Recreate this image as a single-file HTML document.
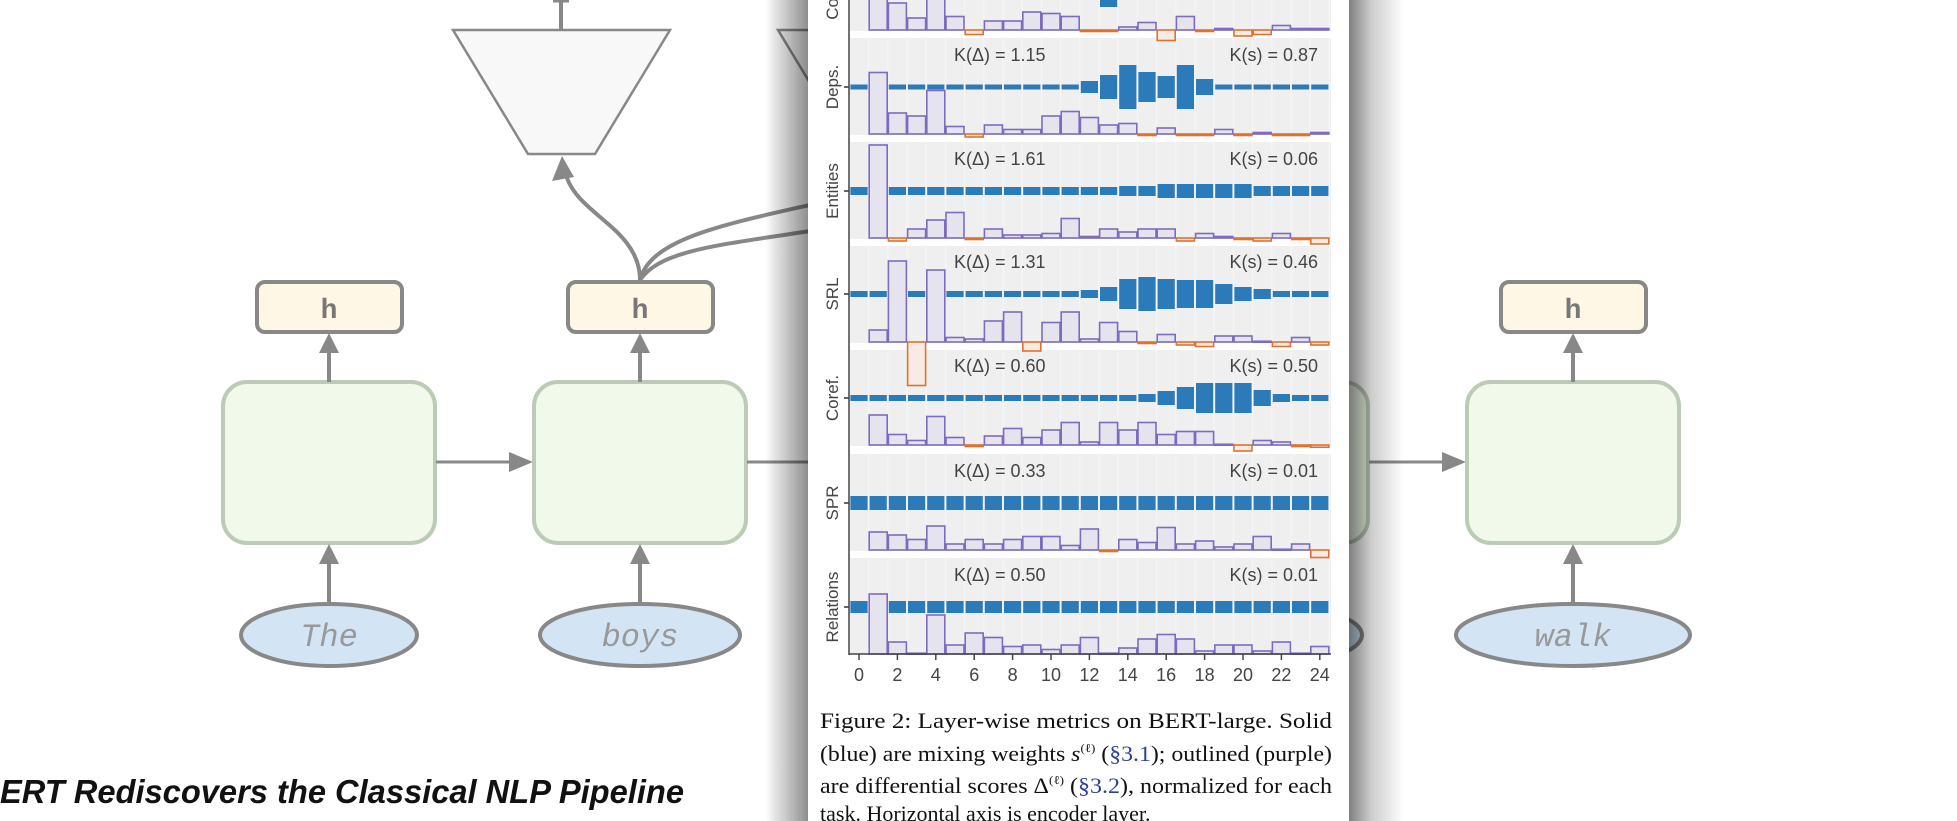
<!DOCTYPE html>
<html><head><meta charset="utf-8"><style>
html,body{margin:0;padding:0;background:#fff;width:1957px;height:821px;overflow:hidden}
svg{display:block}
</style></head><body>
<svg id="s" width="1957" height="821" viewBox="0 0 1957 821" xmlns="http://www.w3.org/2000/svg">
<defs>
<linearGradient id="shL" x1="0" x2="1" y1="0" y2="0"><stop offset="0" stop-color="#000" stop-opacity="0"/><stop offset="1" stop-color="#000" stop-opacity="0.45"/></linearGradient>
<linearGradient id="shR" x1="0" x2="1" y1="0" y2="0"><stop offset="0" stop-color="#000" stop-opacity="0.5"/><stop offset="0.4" stop-color="#000" stop-opacity="0.2"/><stop offset="1" stop-color="#000" stop-opacity="0"/></linearGradient>
</defs>
<g id="diag" fill="none" stroke="#888" stroke-width="4">
<line x1="561" y1="0" x2="561" y2="30" stroke-width="4"/>
<line x1="553" y1="1" x2="569" y2="1" stroke-width="3"/>
<polygon points="453,30 670,30 595,154 528,154" fill="#f8f8f8" stroke-width="2.5"/>
<polygon points="778,30 995,30 920,154 853,154" fill="#f8f8f8" stroke-width="2.5"/>
<path d="M640,280 C640,230 580,215 567,178" stroke-width="4"/>
<polygon points="562,156 552,181 574,177" fill="#888" stroke="none"/>
<path d="M640,280 C650,240 720,225 810,205" stroke-width="4"/>
<path d="M640,280 C660,250 720,245 810,231" stroke-width="4"/>
</g>
<g id="cols"></g>
<rect x="765" y="0" width="44" height="821" fill="url(#shL)"/>
<rect x="1349" y="0" width="55" height="821" fill="url(#shR)"/>
<rect x="808" y="0" width="541" height="821" fill="#fff"/>
<g id="plot"></g>
<text x="820" y="728" font-family="Liberation Serif, serif" font-size="22" fill="#111" textLength="512" lengthAdjust="spacingAndGlyphs">Figure 2: Layer-wise metrics on BERT-large.  Solid</text>
<text x="820" y="761" font-family="Liberation Serif, serif" font-size="22" fill="#111" textLength="512" lengthAdjust="spacingAndGlyphs">(blue) are mixing weights <tspan font-style="italic">s</tspan><tspan font-size="12" dy="-9">(ℓ)</tspan><tspan dy="9"> (</tspan><tspan fill="#2a3f9a">§3.1</tspan>); outlined (purple)</text>
<text x="820" y="793" font-family="Liberation Serif, serif" font-size="22" fill="#111" textLength="512" lengthAdjust="spacingAndGlyphs">are differential scores Δ<tspan font-size="12" dy="-9">(ℓ)</tspan><tspan dy="9"> (</tspan><tspan fill="#2a3f9a">§3.2</tspan>), normalized for each</text>
<text x="820" y="821" font-family="Liberation Serif, serif" font-size="22" fill="#111">task. Horizontal axis is encoder layer.</text>
<text x="0" y="803" font-family="Liberation Sans, sans-serif" font-size="33" font-style="italic" font-weight="bold" fill="#111" textLength="684" lengthAdjust="spacingAndGlyphs">ERT Rediscovers the Classical NLP Pipeline</text>
</svg>
<script>
var NS="http://www.w3.org/2000/svg";
function el(p,t,a,txt){var e=document.createElementNS(NS,t);for(var k in a)e.setAttribute(k,a[k]);if(txt!==undefined)e.textContent=txt;p.appendChild(e);return e;}
var cols=document.getElementById('cols');
var centers=[329,640,951,1262,1573];var words=["The","boys","","","walk"];var rxs=[88,100,100,100,117];
function arrowUp(x,y1,y2){el(cols,'line',{x1:x,y1:y1,x2:x,y2:y2+18,stroke:'#888','stroke-width':4});el(cols,'polygon',{points:(x-10)+','+(y2+20)+' '+(x+10)+','+(y2+20)+' '+x+','+y2,fill:'#888'});}
function arrowR(y,x1,x2){el(cols,'line',{x1:x1,y1:y,x2:x2-18,y2:y,stroke:'#888','stroke-width':3});el(cols,'polygon',{points:(x2-24)+','+(y-10)+' '+(x2-24)+','+(y+10)+' '+x2+','+y,fill:'#888'});}
centers.forEach(function(c,i){
 el(cols,'rect',{x:c-106,y:382,width:212,height:161,rx:24,fill:'#f0f9ea',stroke:'#bccbb5','stroke-width':4});
 el(cols,'rect',{x:c-72,y:282,width:145,height:50,rx:8,fill:'#fef7e6',stroke:'#888','stroke-width':4});
 el(cols,'text',{x:c,y:318,'text-anchor':'middle','font-family':'Liberation Mono, monospace','font-weight':'bold','font-size':28,fill:'#777'},'h');
 arrowUp(c,382,333);
 el(cols,'ellipse',{cx:c,cy:635,rx:rxs[i],ry:31,fill:'#d3e5f5',stroke:'#888','stroke-width':4});
 el(cols,'text',{x:c,y:646,'text-anchor':'middle','font-family':'Liberation Mono, monospace','font-style':'italic','font-size':32,fill:'#999'},words[i]);
 arrowUp(c,604,544);
 if(i<4) arrowR(462,c+107,centers[i+1]-107);
});
var P=document.getElementById('plot');
var bgs=[[0,31],[38,135],[142,239],[246,343],[350,446],[454,551],[558,654]];
bgs.forEach(function(b){el(P,'rect',{x:850,y:b[0],width:481,height:b[1]-b[0],fill:'#efefef'});
 for(var i=0;i<=25;i++){var x=859+i*19.2-9.6;if(x>850&&x<1331)el(P,'line',{x1:x,y1:b[0],x2:x,y2:b[1],stroke:'#f7f7f7','stroke-width':1});}});
function sArr(base,m){var a=[];for(var i=0;i<25;i++)a.push(m[i]!==undefined?m[i]:base);return a;}
var panels=[
 {name:'',line:-15,base:30,s:sArr(3,{13:22,12:8,14:12}),d:[0,40,18,8,40,9,-3,6,6,12,11,9,-1,-1,2,5,-7,9,-1,1,-4,-3,3,1,1],k:null},
 {name:'Deps.',line:87,base:134,s:sArr(2.5,{12:6,13:12,14:22,15:15,16:11,17:22,18:8}),d:[0,41,14,12,29,5,-2,6,3,3,12,15,11,6,7,-1,4,-1,-1,3,-1,1,-1,-1,1],k:['1.15','0.87']},
 {name:'Entities',line:191,base:238,s:sArr(4,{14:5,15:5,16:7,17:7,18:7,19:7,20:7,21:5,22:5,23:5,24:5}),d:[0,62,-2,6,12,17,-1,6,2,2,3,13,1,6,4,6,6,-2,3,1,-1,-2,3,-1,-4],k:['1.61','0.06']},
 {name:'SRL',line:294,base:342,s:sArr(3,{12:4,13:7,14:15,15:17,16:15,17:14,18:14,19:10,20:7,21:5}),d:[0,8,54,-29,48,3,2,14,20,-6,13,20,2,13,7,-1,5,-2,-3,4,4,0.5,-3,3,-2],k:['1.31','0.46']},
 {name:'Coref.',line:398,base:445,s:sArr(3,{15:4,16:7,17:11,18:15,19:15,20:15,21:8,22:4}),d:[0,20,7,3,19,5,-1,6,11,5,10,15,2,15,10,15,7,9,9,0.5,-4,3,2,-1,-1.5],k:['0.60','0.50']},
 {name:'SPR',line:503,base:550,s:sArr(7,{}),d:[0,12,10,7,16,4,7,4,7,9,9,3,14,-1,7,5,15,4,6,2,4,9,0.5,4,-5],k:['0.33','0.01']},
 {name:'Relations',line:607,base:654,s:sArr(6,{}),d:[0,40,8,0.5,26,6,14,11,5,6,3,6,11,0.5,4,10,13,10,2,6,6,2,8,0.5,5],k:['0.50','0.01']}
];
panels.forEach(function(p){
 for(var i=0;i<=24;i++){var cx=859+i*19.2;var h=p.s[i];
  el(P,'rect',{x:cx-8.6,y:p.line-h,width:17.2,height:2*h,fill:'#2b7bba'});}
 for(var i=1;i<=24;i++){var cx=859+i*19.2;var v=p.d[i]*1.5;
  if(v>=0){el(P,'rect',{x:cx-9,y:p.base-v,width:18,height:Math.max(v,1),fill:'#e5e3ee',stroke:'#7d6bbd','stroke-width':1.6});}
  else{el(P,'rect',{x:cx-9,y:p.base,width:18,height:-v,fill:'#f8ebe3',stroke:'#e2702f','stroke-width':1.6});}}
 if(p.k){el(P,'text',{x:954,y:p.line-26,'font-family':'Liberation Sans, sans-serif','font-size':18,fill:'#444'},'K(Δ) = '+p.k[0]);
  el(P,'text',{x:1318,y:p.line-26,'text-anchor':'end','font-family':'Liberation Sans, sans-serif','font-size':18,fill:'#444'},'K(s) = '+p.k[1]);}
 if(p.name){el(P,'text',{x:0,y:0,transform:'translate(838,'+p.line+') rotate(-90)','text-anchor':'middle','font-family':'Liberation Sans, sans-serif','font-size':17,fill:'#444'},p.name);
  el(P,'line',{x1:844,y1:p.line,x2:849,y2:p.line,stroke:'#333','stroke-width':1.5});}
});
el(P,'text',{x:0,y:0,transform:'translate(838,-2) rotate(-90)','text-anchor':'end','font-family':'Liberation Sans, sans-serif','font-size':17,fill:'#444'},'Co');
el(P,'line',{x1:849,y1:0,x2:849,y2:655,stroke:'#444','stroke-width':1.5});
el(P,'line',{x1:849,y1:654,x2:1331,y2:654,stroke:'#444','stroke-width':1.5});
for(var i=0;i<=24;i+=2){var x=859+i*19.2;el(P,'line',{x1:x,y1:654,x2:x,y2:660,stroke:'#444','stroke-width':1.5});
 el(P,'text',{x:x,y:681,'text-anchor':'middle','font-family':'Liberation Sans, sans-serif','font-size':18,fill:'#444'},String(i));}
</script>
</body></html>
